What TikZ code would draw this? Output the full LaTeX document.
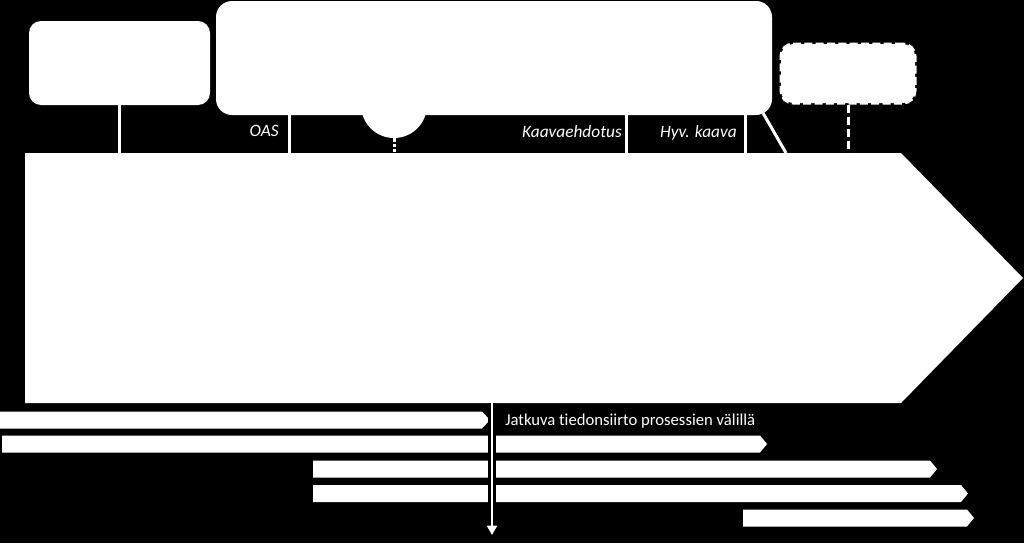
\documentclass[tikz,border=0pt]{standalone}
\usepackage{fontspec}
\setmainfont{Carlito}[Ligatures={NoCommon}]
\usetikzlibrary{fit,arrows.meta}
\begin{document}
\begin{tikzpicture}[x=0.75pt,y=-0.75pt,
  wbox/.style={fill=white,inner sep=0pt,rounded corners=9pt},
  conn/.style={draw=white,line width=2.25pt},
  lbl/.style={text=white,font=\fontsize{13}{15}\selectfont\itshape,inner sep=0pt},
  txt/.style={text=white,font=\fontsize{12.5}{15}\selectfont,inner sep=0pt},
  bar/.style={fill=white}]
\useasboundingbox (0,0) rectangle (1024,543);
\fill[black] (0,0) rectangle (1024,543);
% boxes
\node[wbox,fit={(29,21) (210,105)}] (boxA) {};
\node[circle,fill=white,minimum size=49.5pt,inner sep=0pt] (circ) at (394,105) {};
\node[wbox,rounded corners=12pt,fit={(216,1) (772,115)}] (boxB) {};
\node[wbox,draw=white,line width=2.25pt,dash pattern=on 6pt off 2.5pt,fit={(781,44) (915,103)}] (boxC) {};
% big arrow
\fill[white] (25,153) -- (901,153) -- (1023,278) -- (901,403) -- (25,403) -- cycle;
\coordinate (atop) at (25,153);
\coordinate (abot) at (25,403);
% x positions
\coordinate (xoas) at (289,0);
\coordinate (xehd) at (626,0);
\coordinate (xhyv) at (745,0);
\coordinate (slA) at (763,113);
\coordinate (slB) at (786,153);
\coordinate (xarr) at (492,0);
\coordinate (arrEnd) at (492,535);
% connectors
\draw[conn] (boxA.south) -- (boxA.south |- atop);
\draw[conn] (boxB.south -| xoas) -- (atop -| xoas);
\draw[conn] (boxB.south -| xehd) -- (atop -| xehd);
\draw[conn] (boxB.south -| xhyv) -- (atop -| xhyv);
\draw[conn] (slA) -- (slB);
\draw[conn,dash pattern=on 2.5pt off 1.5pt] (circ.south) -- (atop -| circ.south);
\draw[conn,dash pattern=on 6pt off 3pt] (boxC.south) -- (atop -| boxC.south);
% labels
\node[lbl,anchor=base east] (oas) at (279,136) {OAS};
\node[lbl,anchor=base east] (ehd) at (622,137) {Kaavaehdotus};
\node[lbl,anchor=base east] (hyv) at (737,137) {Hyv. kaava};
% bars
\fill[bar] (0,411.5) -- (482,411.5) -- (490,420) -- (482,428.5) -- (0,428.5) -- cycle;
\fill[bar] (2,435.5) -- (760,435.5) -- (767,444) -- (760,452.5) -- (2,452.5) -- cycle;
\fill[bar] (313,460.5) -- (930,460.5) -- (937,469) -- (930,477.5) -- (313,477.5) -- cycle;
\fill[bar] (313,485) -- (961,485) -- (968,493.5) -- (961,502) -- (313,502) -- cycle;
\fill[bar] (743,509.5) -- (967,509.5) -- (974,518) -- (967,526.5) -- (743,526.5) -- cycle;
% vertical arrow with casing
\draw[black,line width=6pt] (abot -| xarr) -- ([yshift=8]arrEnd);
\draw[white,line width=1.5pt,-{Triangle[width=7.5pt,length=7pt]}] (abot -| xarr) -- (arrEnd);
\node[txt,anchor=base west] (jatk) at (505,425) {Jatkuva tiedonsiirto prosessien välillä};
\end{tikzpicture}
\end{document}
